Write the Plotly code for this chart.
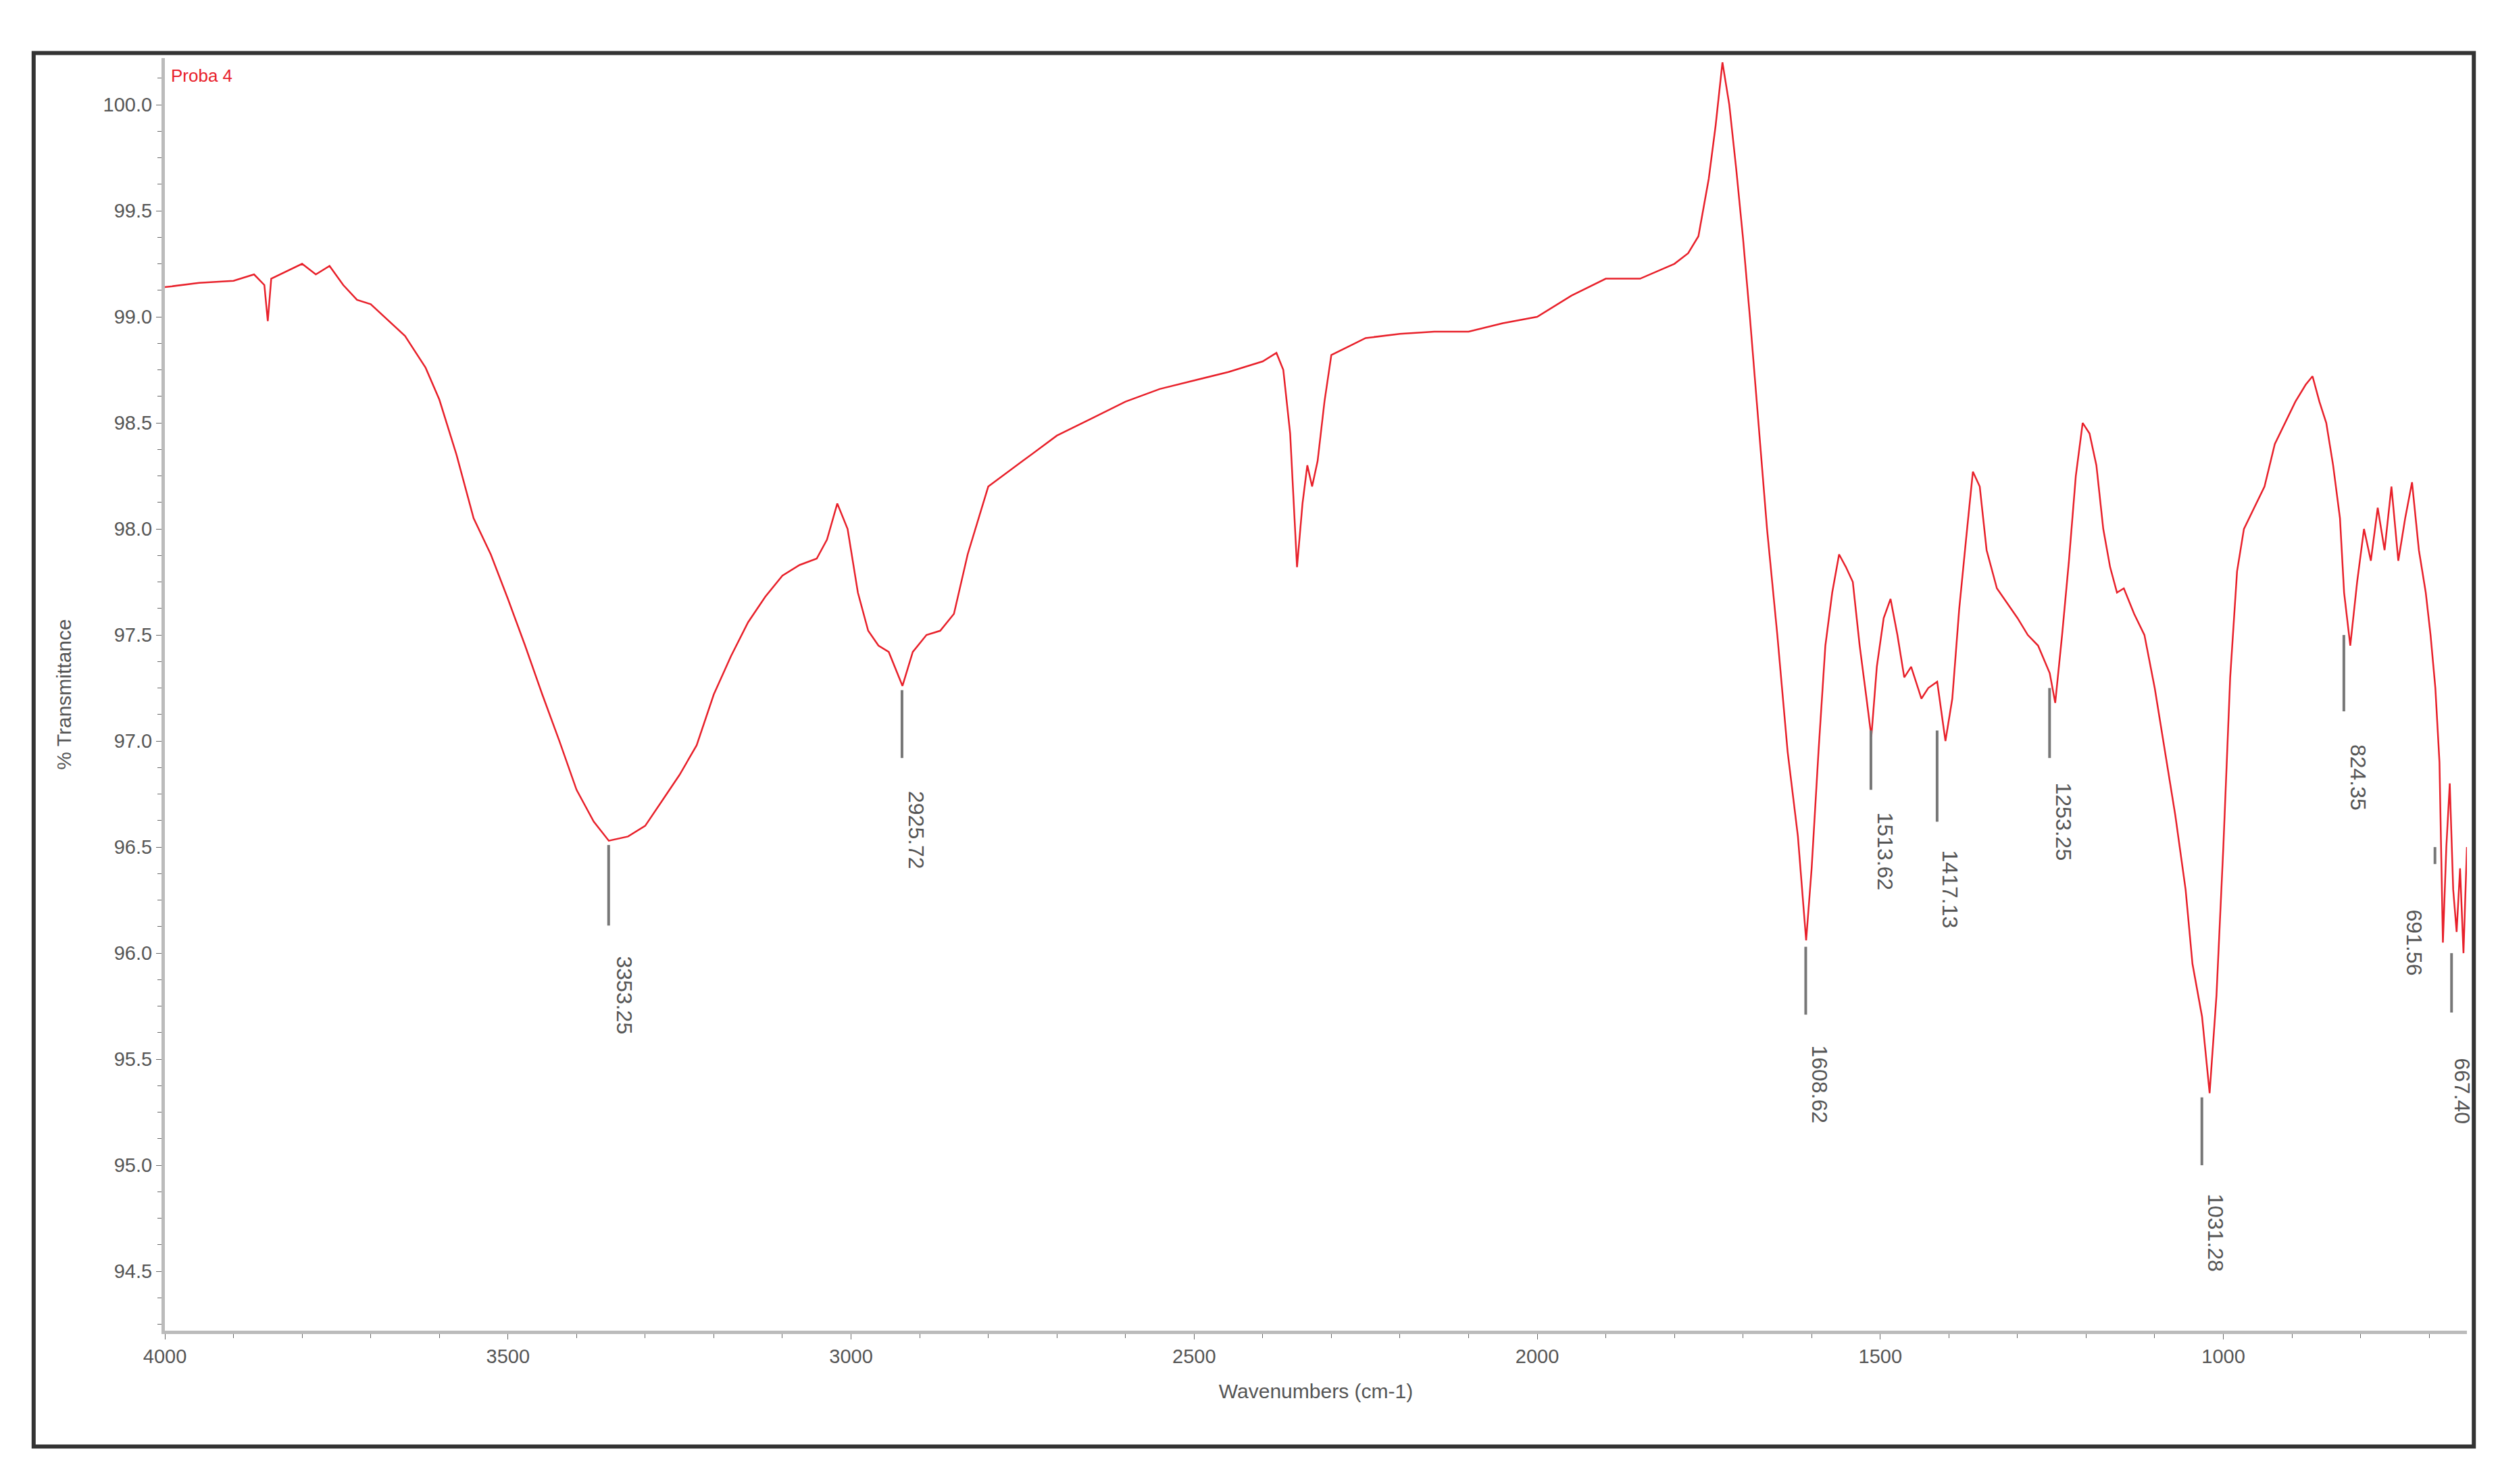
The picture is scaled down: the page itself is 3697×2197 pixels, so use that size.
import plotly.graph_objects as go

# spectrum (wavenumber cm-1, % transmittance)
wavenumber = [4000, 3950, 3900, 3870, 3855, 3850, 3845, 3820, 3800, 3780, 3760, 3740, 3720, 3700,
              3680, 3650, 3620, 3600, 3575, 3550, 3525, 3500, 3475, 3450, 3425, 3400, 3375, 3353,
              3325, 3300, 3275, 3250, 3225, 3200, 3175, 3150, 3125, 3100, 3075, 3050, 3035, 3020,
              3005, 2990, 2975, 2960, 2945, 2925, 2910, 2890, 2870, 2850, 2830, 2800, 2750, 2700,
              2650, 2600, 2550, 2500, 2450, 2400, 2380, 2370, 2360, 2350, 2342, 2335, 2328, 2320,
              2310, 2300, 2275, 2250, 2200, 2150, 2100, 2050, 2000, 1950, 1900, 1850, 1800, 1780,
              1765, 1750, 1740, 1730, 1720, 1710, 1700, 1690, 1680, 1665, 1650, 1635, 1620, 1608,
              1600, 1590, 1580, 1570, 1560, 1550, 1540, 1530, 1520, 1513, 1505, 1495, 1485, 1475,
              1465, 1455, 1440, 1430, 1417, 1405, 1395, 1385, 1375, 1365, 1355, 1345, 1330, 1315,
              1300, 1285, 1270, 1253, 1245, 1235, 1225, 1215, 1205, 1195, 1185, 1175, 1165, 1155,
              1145, 1130, 1115, 1100, 1085, 1070, 1055, 1045, 1031, 1020, 1010, 1000, 990, 980,
              970, 955, 940, 925, 910, 895, 880, 870, 860, 850, 840, 830, 824, 815, 805, 795,
              785, 775, 765, 755, 745, 735, 725, 715, 705, 698, 691, 685, 680, 675, 670, 665,
              660, 655, 650, 645]
transmittance = [99.14, 99.16, 99.17, 99.2, 99.15, 98.98, 99.18, 99.22, 99.25, 99.2, 99.24, 99.15,
                 99.08, 99.06, 99.0, 98.91, 98.76, 98.61, 98.35, 98.05, 97.88, 97.67, 97.45, 97.22,
                 97.0, 96.77, 96.62, 96.53, 96.55, 96.6, 96.72, 96.84, 96.98, 97.22, 97.4, 97.56,
                 97.68, 97.78, 97.83, 97.86, 97.95, 98.12, 98.0, 97.7, 97.52, 97.45, 97.42, 97.26,
                 97.42, 97.5, 97.52, 97.6, 97.88, 98.2, 98.32, 98.44, 98.52, 98.6, 98.66, 98.7,
                 98.74, 98.79, 98.83, 98.75, 98.45, 97.82, 98.12, 98.3, 98.2, 98.32, 98.6, 98.82,
                 98.86, 98.9, 98.92, 98.93, 98.93, 98.97, 99.0, 99.1, 99.18, 99.18, 99.25, 99.3,
                 99.38, 99.65, 99.9, 100.2, 100.0, 99.7, 99.37, 99.0, 98.6, 98.0, 97.5, 96.95,
                 96.55, 96.06, 96.4, 96.95, 97.45, 97.7, 97.88, 97.82, 97.75, 97.45, 97.2, 97.02,
                 97.35, 97.58, 97.67, 97.5, 97.3, 97.35, 97.2, 97.25, 97.28, 97.0, 97.2, 97.62,
                 97.95, 98.27, 98.2, 97.9, 97.72, 97.65, 97.58, 97.5, 97.45, 97.32, 97.18, 97.5,
                 97.85, 98.25, 98.5, 98.45, 98.3, 98.0, 97.82, 97.7, 97.72, 97.6, 97.5, 97.25, 96.95,
                 96.65, 96.3, 95.95, 95.7, 95.34, 95.8, 96.5, 97.3, 97.8, 98.0, 98.1, 98.2, 98.4,
                 98.5, 98.6, 98.68, 98.72, 98.6, 98.5, 98.3, 98.05, 97.7, 97.45, 97.75, 98.0, 97.85,
                 98.1, 97.9, 98.2, 97.85, 98.05, 98.22, 97.9, 97.7, 97.5, 97.25, 96.9, 96.05, 96.5,
                 96.8, 96.3, 96.1, 96.4, 96.0, 96.5, 97.0, 96.8]

# labelled peaks: position, marker line top/bottom, label centre
peak_wn = [3353.25, 2925.72, 1608.62, 1513.62, 1417.13, 1253.25, 1031.28, 824.35, 691.56, 667.40]
peak_line_top = [96.51, 97.24, 96.03, 97.05, 97.05, 97.25, 95.32, 97.5, 96.5, 96.0]
peak_line_bottom = [96.13, 96.92, 95.71, 96.77, 96.62, 96.92, 95.0, 97.14, 96.42, 95.72]
peak_label_y = [95.8, 96.58, 95.38, 96.48, 96.3, 96.62, 94.68, 96.83, 96.05, 95.35]
peak_label_x = [3330, 2905, 1588, 1493, 1398, 1233, 1011, 804, 722, 652]

font_family = "Liberation Sans Narrow, Liberation Sans, Arial"
red = "#e8202a"
gray = "#555555"

fig = go.Figure()
fig.add_trace(go.Scatter(x=wavenumber, y=transmittance, mode="lines",
                         line=dict(color=red, width=2.5), showlegend=False))

for wn, top, bot, ly, lx in zip(peak_wn, peak_line_top, peak_line_bottom, peak_label_y, peak_label_x):
    fig.add_shape(type="line", x0=wn, x1=wn, y0=top, y1=bot, line=dict(color="#777777", width=4))
    fig.add_annotation(x=lx, y=ly, text=f"{wn:.2f}", showarrow=False, textangle=90,
                       font=dict(size=32, color=gray, family=font_family))

# outer frame
fig.add_shape(type="rect", xref="paper", yref="paper", x0=-0.057, x1=1.003, y0=-0.091, y1=1.004,
              line=dict(color="#333333", width=6))
fig.add_annotation(xref="paper", yref="paper", x=0.002, y=0.995, xanchor="left", yanchor="top",
                   text="Proba 4", showarrow=False, font=dict(size=26, color=red, family=font_family))

fig.update_layout(
    width=3697, height=2197,
    margin=dict(l=236, r=54, t=78, b=235),
    plot_bgcolor="white", paper_bgcolor="white",
    font=dict(family=font_family, color=gray),
)
fig.update_xaxes(range=[4000, 645], tickvals=[4000, 3500, 3000, 2500, 2000, 1500, 1000],
                 ticks="outside", ticklen=8, tickcolor="#666666", showgrid=False, zeroline=False,
                 showline=True, linecolor="#bbbbbb", linewidth=5, tickfont=dict(size=29),
                 minor=dict(dtick=100, ticks="outside", ticklen=6, tickcolor="#666666"),
                 title=dict(text="Wavenumbers (cm-1)", font=dict(size=30), standoff=28))
fig.update_yaxes(range=[94.22, 100.22], dtick=0.5, tickformat=".1f",
                 ticks="outside", ticklen=8, tickcolor="#666666", showgrid=False, zeroline=False,
                 showline=True, linecolor="#bbbbbb", linewidth=5, tickfont=dict(size=29),
                 minor=dict(dtick=0.125, ticks="outside", ticklen=6, tickcolor="#666666"),
                 title=dict(text="% Transmittance", font=dict(size=30), standoff=40))

fig.write_html("out.html")
